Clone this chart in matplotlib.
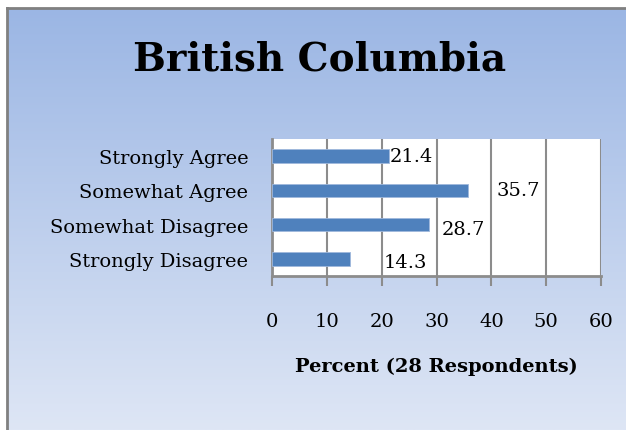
import matplotlib
matplotlib.use("Agg")
import matplotlib.pyplot as plt
import numpy as np
from matplotlib.colors import LinearSegmentedColormap

categories = ["Strongly Agree", "Somewhat Agree", "Somewhat Disagree", "Strongly Disagree"]
values = [21.4, 35.7, 28.7, 14.3]
label_texts = ["21.4", "35.7", "28.7", "14.3"]
xticks = [0, 10, 20, 30, 40, 50, 60]

W, H = 626, 431
fig = plt.figure(figsize=(W / 100, H / 100), dpi=100)
fig.patch.set_facecolor("white")

# gradient background
bg = fig.add_axes([7 / W, 0, 1 - 7 / W, 1 - 9 / H])
cmap = LinearSegmentedColormap.from_list("g", ["#9bb6e4", "#dee6f5"])
grad = np.linspace(0, 1, 256).reshape(-1, 1)
bg.imshow(grad, aspect="auto", cmap=cmap, extent=[0, 1, 0, 1], origin="upper")
bg.set_xlim(0, 1)
bg.set_ylim(0, 1)
bg.set_xticks([])
bg.set_yticks([])
for s in ["right", "bottom"]:
    bg.spines[s].set_visible(False)
for s in ["left", "top"]:
    bg.spines[s].set_color("#808080")
    bg.spines[s].set_linewidth(2)
bg.set_zorder(0)

serif = "DejaVu Serif"
ax = fig.add_axes([272 / W, 1 - 277 / H, (601 - 272) / W, (277 - 140) / H])
ax.set_zorder(1)
ax.set_facecolor("white")
y = np.arange(len(categories))
ax.barh(y, values, height=0.4, color="#4f81bd", edgecolor="#9fb8dc", linewidth=0.6, zorder=3)
ax.set_xlim(0, 60)
ax.set_ylim(len(categories) - 0.5, -0.5)
ax.set_xticks(xticks)
ax.set_xticklabels([str(t) for t in xticks], fontsize=14, family=serif)
ax.set_yticks(y)
ax.set_yticklabels(categories, fontsize=14, family=serif)
ax.tick_params(axis="y", length=0, pad=17)
ax.tick_params(axis="x", length=7, width=1.5, color="#8c8c8c", pad=19)
ax.grid(axis="x", color="#8c8c8c", linewidth=1.5, zorder=1)
for s in ["top", "right"]:
    ax.spines[s].set_visible(False)
for s in ["left", "bottom"]:
    ax.spines[s].set_color("#8c8c8c")
    ax.spines[s].set_linewidth(2)

offsets = [0, 21, 9, 24]
dys = [0, 0, -3, -2]
for yi, v, t, o, d in zip(y, values, label_texts, offsets, dys):
    ax.annotate(t, (v, yi), xytext=(o, d), textcoords="offset points",
                ha="left", va="center", fontsize=14, family=serif, zorder=5)

ax.set_xlabel("Percent (28 Respondents)", fontsize=14, fontweight="bold", family=serif, labelpad=19)

fig.text(320 / W, 1 - 60 / H, "British Columbia", ha="center", va="center",
         fontsize=28, fontweight="bold", family=serif)

fig.savefig("out.png", dpi=100)
